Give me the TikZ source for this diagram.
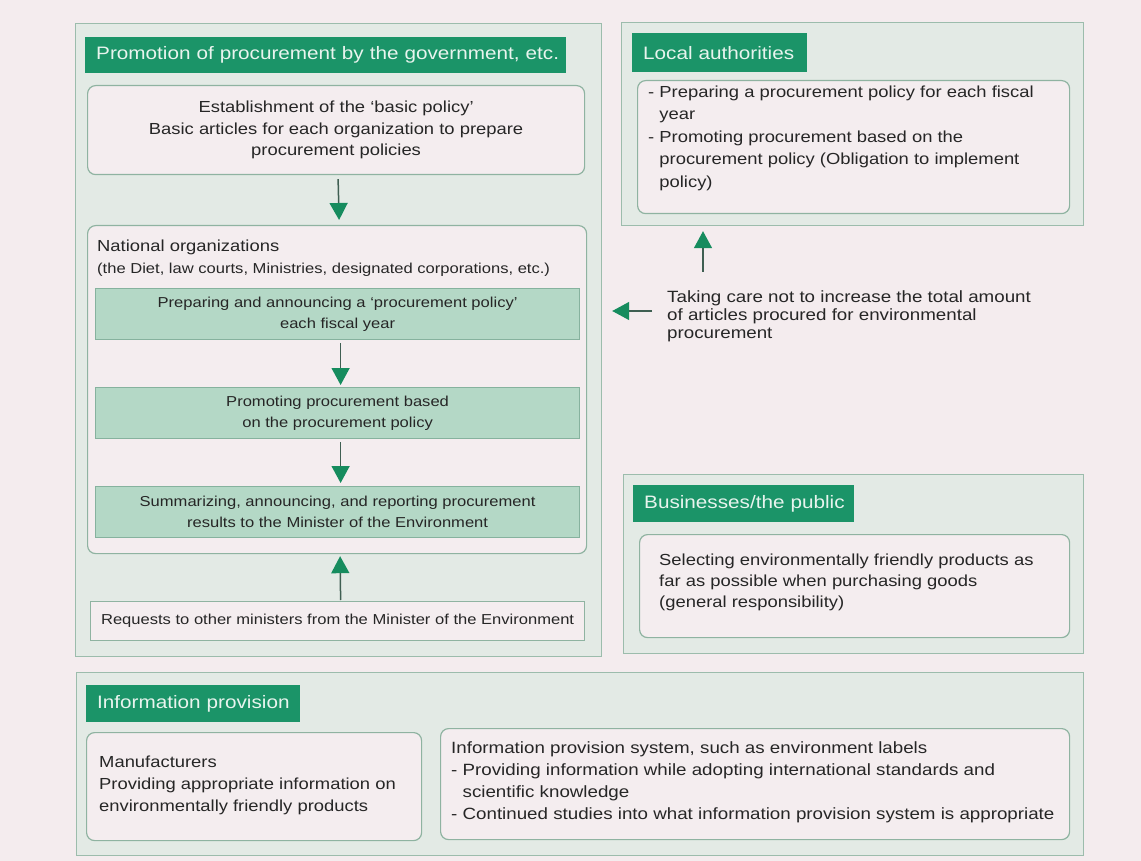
\documentclass[tikz,border=0pt]{standalone}
\usepackage{fontspec}
\setmainfont[FakeStretch=1.15]{Liberation Sans}
\usetikzlibrary{arrows.meta}

\definecolor{pagebg}{HTML}{F4ECEE}
\definecolor{panelfill}{HTML}{E3EAE5}
\definecolor{panelline}{HTML}{9CBCAC}
\definecolor{boxfill}{HTML}{F4EDEF}
\definecolor{boxline}{HTML}{8FB3A1}
\definecolor{tabgreen}{HTML}{1B9468}
\definecolor{tabtext}{HTML}{E8F4EE}
\definecolor{bandfill}{HTML}{B4D8C6}
\definecolor{bandline}{HTML}{86B29E}
\definecolor{arrowgreen}{HTML}{168C5E}
\definecolor{shaft}{HTML}{3F5F52}
\definecolor{ink}{HTML}{262626}

\newcommand\fhdr{\fontsize{18}{22}\selectfont}
\newcommand\fbody{\fontsize{16}{21.5}\selectfont}
\newcommand\fsmall{\fontsize{14.4}{20.5}\selectfont}

\begin{document}
\begin{tikzpicture}[x=1pt,y=-1pt,
  panel/.style={draw=panelline, fill=panelfill, line width=1.2pt, inner sep=0pt, anchor=north west},
  tab/.style={fill=tabgreen, text=tabtext, inner xsep=11pt, inner ysep=0pt, anchor=north west, align=left, font=\fhdr},
  inbox/.style={draw=boxline, fill=boxfill, rounded corners=8pt, line width=1.2pt, inner sep=0pt, anchor=north west, text=ink},
  plainbox/.style={draw=boxline, fill=boxfill, line width=1.2pt, inner sep=0pt, anchor=north west, text=ink},
  band/.style={draw=bandline, fill=bandfill, line width=1.2pt, inner sep=0pt, anchor=north west, minimum width=484pt, minimum height=51pt, align=center, font=\fsmall, text=ink},
  txt/.style={inner sep=0pt, anchor=north west, align=left, font=\fbody, text=ink},
  flow/.style={draw=shaft, line width=1.5pt, -{Triangle[width=18pt,length=17pt,color=arrowgreen]}}
]
\fill[pagebg] (0,0) rectangle (1141,861);
\useasboundingbox (0,0) rectangle (1141,861);

% ---- outer panels
\node[panel, minimum width=526pt, minimum height=633pt] (pa) at (75,23) {};
\node[panel, minimum width=462pt, minimum height=203pt] (pb) at (621,22) {};
\node[panel, minimum width=460pt, minimum height=179pt] (pc) at (623,474) {};
\node[panel, minimum width=1007pt, minimum height=183pt] (pd) at (76,672) {};

% ---- panel headings
\node[tab, minimum height=36pt, text width=459pt] (ha) at (85,37) {\mbox{Promotion of procurement by the government, etc.}};
\node[tab, minimum height=39pt, text width=153pt] (hb) at (632,33) {\mbox{Local authorities}};
\node[tab, minimum height=37pt, text width=199pt] (hc) at (633,485) {\mbox{Businesses/the public}};
\node[tab, minimum height=37pt, text width=192pt] (hd) at (86,685) {\mbox{Information provision}};

% ---- government procurement flow
\node[inbox, minimum width=497pt, minimum height=89pt, align=center, font=\fbody] (est) at (87,85)
  {Establishment of the ‘basic policy’\\Basic articles for each organization to prepare\\procurement policies};

\node[inbox, minimum width=499pt, minimum height=328pt] (nat) at (87,225) {};
\node[txt] (natlabel) at (97,240) {National organizations};
\node[txt, font=\fsmall] (natsub) at (97,262.5) {(the Diet, law courts, Ministries, designated corporations, etc.)};

\node[band] (b1) at (95,288) {Preparing and announcing a ‘procurement policy’\\each fiscal year};
\node[band] (b2) at (95,387) {Promoting procurement based\\on the procurement policy};
\node[band] (b3) at (95,486) {Summarizing, announcing, and reporting procurement\\results to the Minister of the Environment};

\node[plainbox, minimum width=494pt, minimum height=39pt, font=\fsmall] (req) at (90,601)
  {Requests to other ministers from the Minister of the Environment};

\draw[flow] ([xshift=2pt,yshift=-4pt]est.south) -- ([xshift=2pt,yshift=5pt]nat.north);
\draw[flow] ([xshift=3pt,yshift=-3pt]b1.south) -- ([xshift=3pt,yshift=2pt]b2.north);
\draw[flow] ([xshift=3pt,yshift=-3pt]b2.south) -- ([xshift=3pt,yshift=3pt]b3.north);
\draw[flow] ([xshift=3pt,yshift=1pt]req.north) -- ([xshift=3pt,yshift=-2pt]nat.south);

% ---- local authorities
\node[inbox, minimum width=432pt, minimum height=133pt] (la) at (637,80) {};
\node[txt, font=\fontsize{16}{22.5}\selectfont] (latext) at (648,85.3)
  {- Preparing a procurement policy for each fiscal\\
   \phantom{- }year\\
   - Promoting procurement based on the\\
   \phantom{- }procurement policy (Obligation to implement\\
   \phantom{- }policy)};

% ---- note on total amount
\node[txt, font=\fontsize{16.3}{18}\selectfont] (care) at (667,290)
  {Taking care not to increase the total amount\\of articles procured for environmental\\procurement};
\coordinate (carel) at (652,311);
\coordinate (careu) at (703,272);
\draw[flow] (carel) -- ([xshift=10pt]carel -| pa.east);
\draw[flow] (careu) -- ([yshift=-5pt]careu |- pb.south);

% ---- businesses and the public
\node[inbox, minimum width=430pt, minimum height=103pt] (bus) at (639,534) {};
\node[txt, font=\fontsize{16}{21}\selectfont] (bustext) at (659,554)
  {Selecting environmentally friendly products as\\far as possible when purchasing goods\\(general responsibility)};

% ---- information provision
\node[inbox, minimum width=335pt, minimum height=108pt] (mf) at (86,732) {};
\node[txt, font=\fontsize{16}{22}\selectfont] (mftext) at (99,756)
  {Manufacturers\\Providing appropriate information on\\environmentally friendly products};

\node[inbox, minimum width=629pt, minimum height=111pt] (info) at (440,728) {};
\node[txt, font=\fontsize{16.3}{22.3}\selectfont] (infotext) at (451,741)
  {Information provision system, such as environment labels\\
   - Providing information while adopting international standards and\\
   \phantom{- }scientific knowledge\\
   - Continued studies into what information provision system is appropriate};
\end{tikzpicture}
\end{document}
